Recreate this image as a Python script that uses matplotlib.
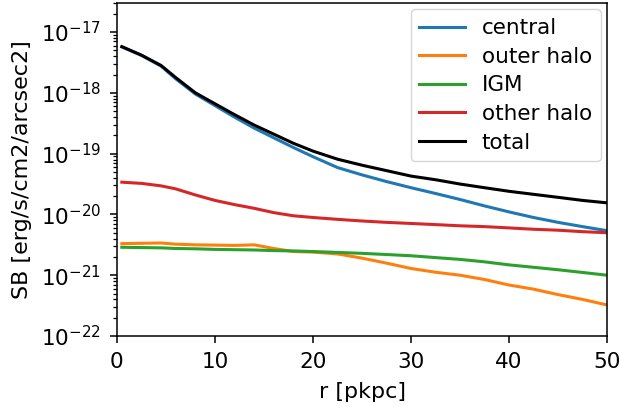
import matplotlib
matplotlib.use("Agg")
import matplotlib.pyplot as plt

r = [0.5, 2.5, 4.5, 6, 8, 10, 12, 14, 16, 18, 20, 22.5, 25, 27.5, 30, 32.5, 35, 37.5, 40, 42.5, 45, 47.5, 50]

central = [5.69e-18, 4.12e-18, 2.75e-18, 1.70e-18, 9.55e-19, 6.17e-19, 3.98e-19, 2.63e-19, 1.82e-19,
           1.26e-19, 8.9e-20, 5.9e-20, 4.47e-20, 3.47e-20, 2.75e-20, 2.21e-20, 1.76e-20, 1.38e-20,
           1.10e-20, 8.9e-21, 7.4e-21, 6.3e-21, 5.4e-21]
outer_halo = [3.31e-21, 3.35e-21, 3.39e-21, 3.24e-21, 3.16e-21, 3.13e-21, 3.09e-21, 3.16e-21, 2.75e-21,
              2.45e-21, 2.40e-21, 2.24e-21, 1.91e-21, 1.58e-21, 1.29e-21, 1.12e-21, 1.0e-21, 8.5e-22,
              6.9e-22, 5.9e-22, 4.8e-22, 4.0e-22, 3.24e-22]
igm = [2.88e-21, 2.85e-21, 2.82e-21, 2.75e-21, 2.72e-21, 2.66e-21, 2.63e-21, 2.60e-21, 2.54e-21,
       2.51e-21, 2.45e-21, 2.37e-21, 2.29e-21, 2.19e-21, 2.09e-21, 1.95e-21, 1.82e-21, 1.66e-21,
       1.48e-21, 1.35e-21, 1.23e-21, 1.11e-21, 1.0e-21]
other_halo = [3.39e-20, 3.24e-20, 2.95e-20, 2.63e-20, 2.09e-20, 1.70e-20, 1.45e-20, 1.26e-20, 1.07e-20,
              9.5e-21, 8.9e-21, 8.3e-21, 7.8e-21, 7.4e-21, 7.1e-21, 6.8e-21, 6.5e-21, 6.3e-21,
              6.0e-21, 5.7e-21, 5.5e-21, 5.2e-21, 5.0e-21]
total = [5.75e-18, 4.17e-18, 2.82e-18, 1.78e-18, 1.0e-18, 6.6e-19, 4.37e-19, 2.95e-19, 2.09e-19,
         1.48e-19, 1.10e-19, 8.1e-20, 6.45e-20, 5.25e-20, 4.27e-20, 3.72e-20, 3.16e-20, 2.75e-20,
         2.40e-20, 2.14e-20, 1.91e-20, 1.70e-20, 1.55e-20]
yticks = [1e-22, 1e-21, 1e-20, 1e-19, 1e-18, 1e-17]

fig = plt.figure(figsize=(6.22, 4.07), dpi=100)
ax = fig.add_axes([0.188, 0.1744, 0.788, 0.8182])
lw = 2.2
ax.plot(r, central, color="#1f77b4", lw=lw, label="central")
ax.plot(r, outer_halo, color="#ff7f0e", lw=lw, label="outer halo")
ax.plot(r, igm, color="#2ca02c", lw=lw, label="IGM")
ax.plot(r, other_halo, color="#d62728", lw=lw, label="other halo")
ax.plot(r, total, color="black", lw=lw, label="total")
ax.set_yscale("log")
ax.set_xlim(0, 50)
ax.set_ylim(1e-22, 3e-17)
ax.set_yticks(yticks)
ax.tick_params(labelsize=15.5, width=1.1, length=5, pad=6.5)
ax.tick_params(which="minor", width=0.9, length=3)
for s in ax.spines.values():
    s.set_linewidth(1.1)
ax.set_xlabel("r [pkpc]", fontsize=16, labelpad=7)
ax.set_ylabel("SB [erg/s/cm2/arcsec2]", fontsize=16, labelpad=6)
ax.legend(loc="upper right", fontsize=15.5, labelspacing=0.4, handlelength=2.1,
          borderaxespad=0.3)
fig.savefig("out.png", dpi=100)
